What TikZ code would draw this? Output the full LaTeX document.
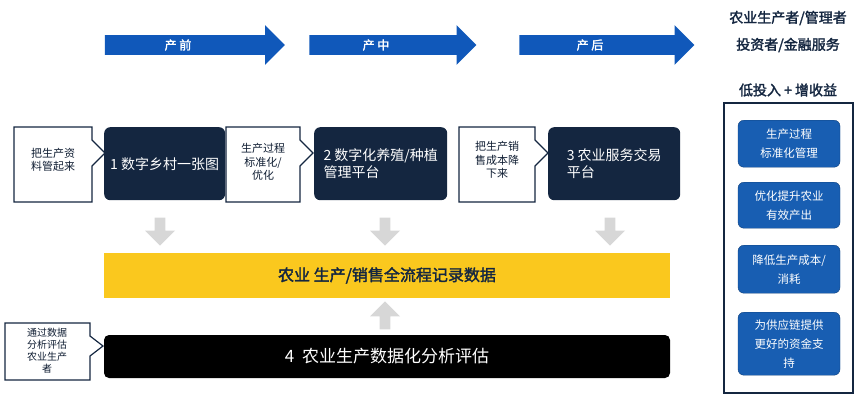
\documentclass[tikz,border=0pt]{standalone}
\usepackage{fontspec}
\setmainfont{Noto Sans CJK SC}
\newfontfamily\cjkbold[FakeBold=2]{Noto Sans CJK SC}
\usetikzlibrary{shapes.arrows, positioning}
\definecolor{navy}{RGB}{20,38,64}
\definecolor{tealblue}{RGB}{24,94,178}
\definecolor{arrowblue}{RGB}{16,88,186}
\definecolor{barjaune}{RGB}{250,200,30}
\definecolor{lightgrey}{RGB}{215,215,215}
\begin{document}
\begin{tikzpicture}[x=1pt, y=-1pt,
    phase/.style={single arrow, draw=none, fill=arrowblue, minimum height=180pt, minimum width=30pt,
      single arrow head extend=10pt, single arrow tip angle=90, text=white, font=\cjkbold\fontsize{12}{14}\selectfont, inner sep=4pt},
    darkbox/.style={rectangle, rounded corners=6pt, fill=navy, text=white, align=left, font=\fontsize{14}{17}\selectfont, anchor=north west, inner sep=6pt},
    note/.style={align=center, font=\fontsize{11}{13.5}\selectfont, text=navy!80!black},
    notebox/.style={draw=navy, line width=1.2pt, fill=white},
    bluebox/.style={rectangle, rounded corners=6pt, fill=tealblue, draw=tealblue!70!black, text=white, align=center, minimum width=102pt, font=\fontsize{11.5}{19}\selectfont, anchor=north},
    greyarrow/.style={single arrow, fill=lightgrey, draw=none, minimum height=28pt, minimum width=30pt, single arrow head extend=4pt, inner sep=2pt},
    heading/.style={font=\cjkbold\fontsize{14}{16}\selectfont, text=navy}
]
\useasboundingbox (0,0) rectangle (858,400);
% phases
\node[phase, minimum height=180pt] (pre) at (190,45) {\hspace*{-2em}产 前};
\node[phase, minimum height=167pt] (mid) at (388,45) {\hspace*{-2em}产 中};
\node[phase, minimum height=175pt] (post) at (602,45) {\hspace*{-2em}产 后};
% platform boxes
\node[darkbox, minimum width=114pt, minimum height=73pt] (b1) at (104,127) {1 数字乡村一张图};
\node[darkbox, minimum width=133pt, minimum height=73pt] (b2) at (314,127) {2 数字化养殖/种植\\管理平台};
\node[darkbox, minimum width=132pt, minimum height=73pt] (b3) at (548,127) {3 农业服务交易\\平台};
% callouts
\draw[notebox] (14,127) -- (92,127) -- (92,140) -- (105,153) -- (92,166) -- (92,202) -- (14,202) -- cycle;
\node[note] (n1) at (53,160) {把生产资\\料管起来};
\draw[notebox] (226,127) -- (300,127) -- (300,140) -- (313,153) -- (300,166) -- (300,202) -- (226,202) -- cycle;
\node[note] (n2) at (263,162) {生产过程\\标准化/\\优化};
\draw[notebox] (459,127) -- (535,127) -- (535,140) -- (548,153) -- (535,166) -- (535,202) -- (459,202) -- cycle;
\node[note] (n3) at (497,160) {把生产销\\售成本降\\下来};
\draw[notebox] (5,323) -- (90,323) -- (90,336) -- (103,346) -- (90,356) -- (90,380) -- (5,380) -- cycle;
\node[note, font=\fontsize{10}{12}\selectfont] (n4) at (47,351) {通过数据\\分析评估\\农业生产\\者};
% grey arrows
\foreach \gx/\gname in {160/d1, 385/d2, 610/d3}
  \node[greyarrow, shape border rotate=270] (\gname) at (\gx,229) {};
% record bar
\node[rectangle, fill=barjaune, minimum width=566pt, minimum height=45pt, font=\cjkbold\fontsize{16}{18}\selectfont, text=navy] (rec) at (387,275.5) {农业 生产/销售全流程记录数据};
\node[greyarrow, shape border rotate=90] (up) at (385,318) {};
% analysis bar
\node[rectangle, rounded corners=5pt, fill=black, text=white, minimum width=566pt, minimum height=43pt, font=\fontsize{17}{19}\selectfont] (ana) at (387,356.5) {4\ \ 农业生产数据化分析评估};
% right panel
\node[heading] (t1) at (788,18) {农业生产者/管理者};
\node[heading] (t2) at (788,45) {投资者/金融服务};
\node[heading] (t3) at (788,90) {低投入 + 增收益};
\draw[navy, line width=1.3pt] (724,103) rectangle (853,393);
\node[bluebox, minimum height=47pt] (v1) at (789,120) {生产过程\\标准化管理};
\node[bluebox, minimum height=46pt] (v2) at (789,182) {优化提升农业\\有效产出};
\node[bluebox, minimum height=48pt] (v3) at (789,245) {降低生产成本/\\消耗};
\node[bluebox, minimum height=63pt] (v4) at (789,312) {为供应链提供\\更好的资金支\\持};
\end{tikzpicture}
\end{document}
